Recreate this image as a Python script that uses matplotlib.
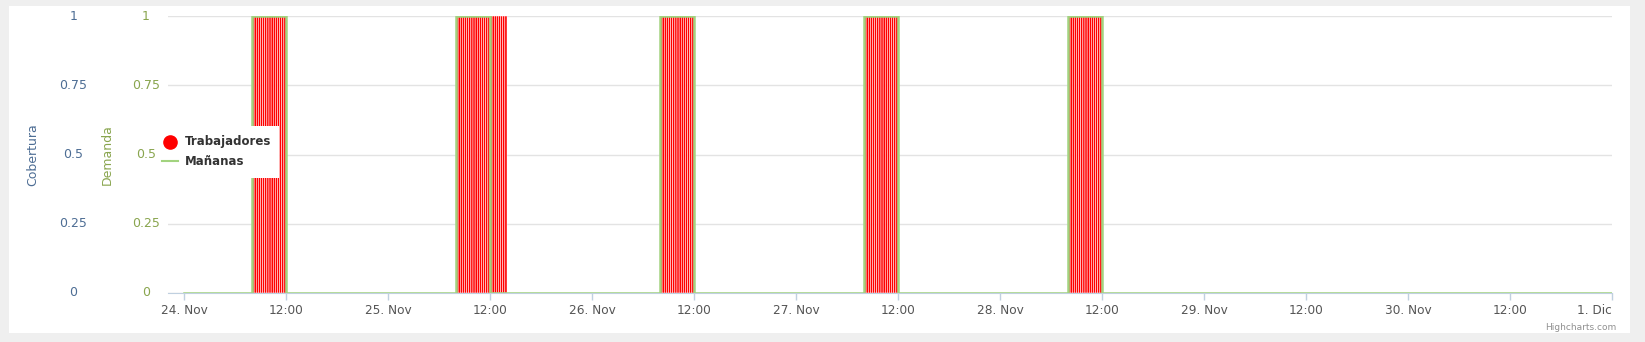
import numpy as np
import matplotlib
matplotlib.use("Agg")
import matplotlib.pyplot as plt
from matplotlib.patches import Rectangle
from matplotlib.lines import Line2D
from matplotlib import transforms

# Datos (horas desde el 24 Nov 00:00)
dias_turno = [0, 1, 2, 3, 4]            # 24..28 Nov
manana_inicio = [8, 8, 8, 8, 8]         # Mañanas: demanda 1 de 08:00 a 12:00
manana_fin = [12, 12, 12, 12, 12]
trab_inicio = [8, 8, 8, 8, 8]           # Trabajadores: columnas de 15 min con valor 1
trab_fin = [12, 14, 12, 12, 12]
paso_min = 15
fin_serie = 168                          # 1 Dic 00:00

x_ticks = list(range(0, 169, 12))
x_labels = ["24. Nov", "12:00", "25. Nov", "12:00", "26. Nov", "12:00", "27. Nov",
            "12:00", "28. Nov", "12:00", "29. Nov", "12:00", "30. Nov", "12:00", "1. Dic"]
y_ticks = [0, 0.25, 0.5, 0.75, 1]
y_labels = ["0", "0.25", "0.5", "0.75", "1"]

W, H = 1645, 342
ROJO = "#ff0000"
VERDE = "#a2d37f"
AZUL = "#4d6d94"
OLIVA = "#89a54e"

fig = plt.figure(figsize=(W / 100, H / 100), dpi=100)
fig.patch.set_facecolor("#efefef")
fig.patches.append(Rectangle((9 / W, 1 - 333 / H), (1630 - 9) / W, (333 - 6) / H,
                             transform=fig.transFigure, facecolor="white",
                             edgecolor="none", zorder=-10))

left, right = 168 / W, 1612 / W
top, bottom = 1 - 16 / H, 1 - 293 / H
ax = fig.add_axes([left, bottom, right - left, top - bottom])
ax.set_facecolor("white")
ax.patch.set_alpha(0)

# columnas Trabajadores (borde blanco como en Highcharts)
xs_bar = []
for d, ini, fin in zip(dias_turno, trab_inicio, trab_fin):
    n = int((fin - ini) * 60 / paso_min)
    for k in range(n):
        xs_bar.append(d * 24 + ini + k * paso_min / 60)
ax.bar(xs_bar, np.ones(len(xs_bar)), width=paso_min / 60, align="edge",
       color=ROJO, edgecolor="white", linewidth=0.35, zorder=2, snap=False)

# línea Mañanas
lx, ly = [0], [0]
for d, ini, fin in zip(dias_turno, manana_inicio, manana_fin):
    lx += [d * 24 + ini, d * 24 + ini, d * 24 + fin, d * 24 + fin]
    ly += [0, 1, 1, 0]
lx.append(fin_serie)
ly.append(0)
ax.plot(lx, ly, color=VERDE, lw=1.8, zorder=3, solid_joinstyle="miter")

ax.set_xlim(-16 / (1428 / 168), 168)
ax.set_ylim(0, 1)
for s in ["left", "right", "top"]:
    ax.spines[s].set_visible(False)
ax.spines["bottom"].set_color("#c0d0e0")
ax.set_yticks(y_ticks)
ax.tick_params(axis="y", left=False, labelleft=False)
ax.grid(axis="y", color="#e3e3e3", lw=1)
ax.set_xticks(x_ticks)
ax.set_xticklabels(x_labels, fontsize=8.7, color="#555555")
ax.tick_params(axis="x", length=5, width=1, color="#c0d0e0", pad=3)
ax.get_xticklabels()[-1].set_horizontalalignment("right")

# ejes Y a la izquierda
tr = transforms.blended_transform_factory(fig.transFigure, ax.transData)
for v, lab in zip(y_ticks, y_labels):
    fig.text(73.5 / W, v, lab, transform=tr, color=AZUL, fontsize=9, ha="center", va="center")
    fig.text(146 / W, v, lab, transform=tr, color=OLIVA, fontsize=9, ha="center", va="center")
fig.text(33 / W, 1 - 155 / H, "Cobertura", rotation=90, color=AZUL, fontsize=9,
         ha="center", va="center")
fig.text(107 / W, 1 - 155 / H, "Demanda", rotation=90, color=OLIVA, fontsize=9,
         ha="center", va="center")

# leyenda
fig.patches.append(Rectangle((155 / W, 1 - 178 / H), (279 - 155) / W, (178 - 126) / H,
                             transform=fig.transFigure, facecolor="white",
                             edgecolor="none", zorder=5))
fig.lines.append(Line2D([170 / W], [1 - 142 / H], transform=fig.transFigure, marker="o",
                        markersize=9.5, color=ROJO, linestyle="none", zorder=6))
fig.lines.append(Line2D([162 / W, 178 / W], [1 - 161 / H, 1 - 161 / H], transform=fig.transFigure,
                        color=VERDE, lw=1.5, zorder=6))
fig.text(185 / W, 1 - 142 / H, "Trabajadores", fontsize=8.5, fontweight="bold",
         color="#333333", va="center", ha="left", zorder=7)
fig.text(185 / W, 1 - 162 / H, "Mañanas", fontsize=8.5, fontweight="bold",
         color="#333333", va="center", ha="left", zorder=7)

fig.text(1616 / W, 1 - 328 / H, "Highcharts.com", fontsize=6.5, color="#909090",
         ha="right", va="center")

fig.savefig("out.png", dpi=100, facecolor=fig.get_facecolor())
